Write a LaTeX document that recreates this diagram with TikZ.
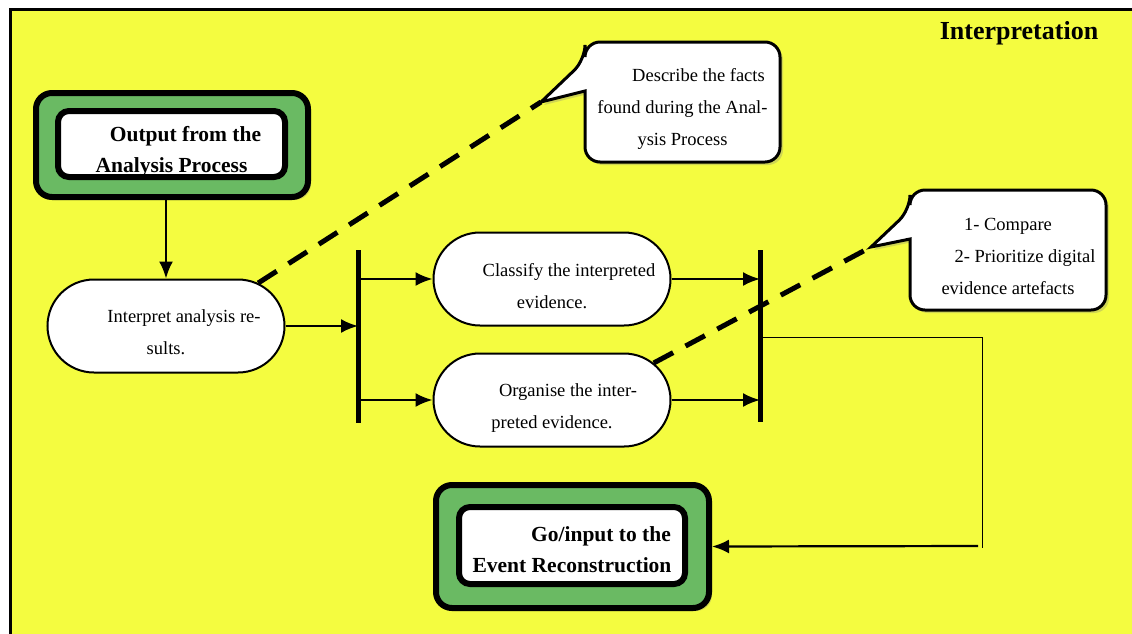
\documentclass[tikz,border=0pt]{standalone}
\usepackage{fontspec}
\setmainfont{Liberation Serif}
\usetikzlibrary{shapes.misc,arrows.meta,shadows,calc}
\definecolor{bgyellow}{RGB}{244,252,64}
\definecolor{boxgreen}{RGB}{106,186,99}
\begin{document}
\begin{tikzpicture}
				[x=1pt,y=-1pt,
				proc/.style={rounded rectangle,draw,line width=2pt,fill=white,minimum width=237pt,minimum height=93pt,align=center,inner sep=0pt,font=\fontsize{18.5}{32}\selectfont},
				outer/.style={rectangle,rounded corners=16pt,draw,line width=6pt,fill=boxgreen,drop shadow={opacity=0.3,shadow xshift=3pt,shadow yshift=-3pt}},
				inner/.style={rectangle,rounded corners=11pt,draw,line width=6pt,fill=white,align=center,inner sep=0pt,font=\bfseries\fontsize{21.5}{31}\selectfont},
				bubble/.style={draw,line width=3pt,fill=white,rounded corners=15pt,drop shadow={opacity=0.3,shadow xshift=3pt,shadow yshift=-3pt}},
				note/.style={align=center,inner sep=0pt,font=\fontsize{18.5}{32}\selectfont},
				flow/.style={line width=2.2pt,-{Latex[length=17pt,width=14pt]}},
				bar/.style={line width=5pt},
				link/.style={line width=5pt,dash pattern=on 22pt off 14pt}]
				\useasboundingbox (0,0) rectangle (1132,633);
				\fill[white] (0,0) rectangle (1132,633);
				\draw[line width=3pt,fill=bgyellow] (10,9) rectangle (1145,645);
				\node[font=\bfseries\fontsize{26}{30}\selectfont,name=title] at (1019,33) {Interpretation};
				% start and end boxes
				\node[outer,name=outbg,minimum width=272pt,minimum height=104pt] at (172,145) {};
				\node[inner,name=out,minimum width=227pt,minimum height=66pt] at (171.5,144) {\rule{0pt}{30pt}\hspace*{28pt}Output from the\\Analysis Process};
				\node[outer,name=gobg,minimum width=273pt,minimum height=123pt] at (572.5,546.5) {};
				\node[inner,name=go,minimum width=226pt,minimum height=77pt] at (572,545.5) {\rule{0pt}{24pt}\hspace*{58pt}Go/input to the\\Event Reconstruction};
				% process steps
				\node[proc,name=interp] at (166,326) {\rule{0pt}{25pt}\hspace*{36pt}Interpret analysis re-\\sults.};
				\node[proc,name=classify] at (552,279) {\rule{0pt}{27pt}\hspace*{34pt}Classify the interpreted\\evidence.};
				\node[proc,name=organise] at (552,400) {\rule{0pt}{29pt}\hspace*{32pt}Organise the inter-\\preted evidence.};
				% notes
				\coordinate (descnw) at (585,42);
				\coordinate (descse) at (780,162);
				\coordinate (desctip) at (541,102);
				\draw[bubble] (585,91)--(descnw |- descse)--(descse)--(descse |- descnw)--(descnw)--(585,60) [sharp corners]--(desctip)--cycle;
				\node[note,name=desc] at ($(descnw)!0.5!(descse)$) {\rule{0pt}{27pt}\hspace*{32pt}Describe the facts\\found during the Anal-\\ysis Process};
				\coordinate (ranknw) at (910,190);
				\coordinate (rankse) at (1106,310);
				\coordinate (ranktip) at (871,247);
				\draw[bubble] (910,239)--(ranknw |- rankse)--(rankse)--(rankse |- ranknw)--(ranknw)--(910,210) [sharp corners]--(ranktip)--cycle;
				\node[note,name=rank] at ($(ranknw)!0.5!(rankse)$) {\rule{0pt}{25pt}1- Compare\\\hspace*{34pt}2- Prioritize digital\\evidence artefacts};
				% fork and join bars
				\coordinate (b1top) at (358,250);
				\coordinate (b1bot) at (358,423);
				\coordinate (b2top) at (760,250);
				\coordinate (b2bot) at (760,422);
				\draw[bar] (b1top)--(b1bot);
				\draw[bar] (b2top)--(b2bot);
				\draw[flow] (interp.north |- outbg.south)--(interp.north);
				\draw[flow] (interp.east)--(interp.east -| b1top);
				\draw[flow] (b1top |- classify.west)--(classify.west);
				\draw[flow] (b1top |- organise.west)--(organise.west);
				\draw[flow] (classify.east)--(classify.east -| b2top);
				\draw[flow] (organise.east)--(organise.east -| b2top);
				\coordinate (turn) at (982,337);
				\draw[line width=1pt] (b2top |- turn)--(turn)--(982,548);
				\draw[flow] (978,546)--(gobg.east);
				\draw[link] (interp.25)--(desctip);
				\draw[link] (organise.20)--(ranktip);
			\end{tikzpicture}
\end{document}
